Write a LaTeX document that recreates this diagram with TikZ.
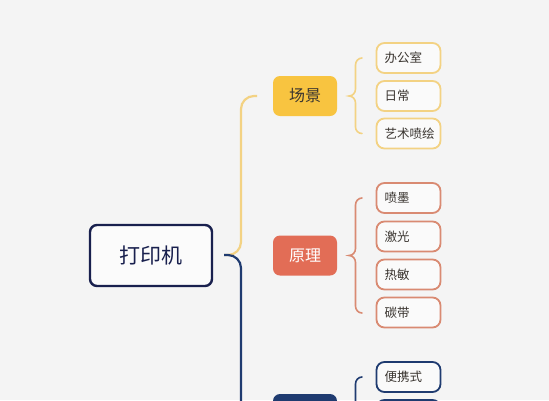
\documentclass[tikz,border=0pt]{standalone}
\usepackage{fontspec}
\newfontfamily\cjk{Noto Sans CJK SC}
\definecolor{bg}{HTML}{F4F4F4}
\definecolor{ylw}{HTML}{F8C440}
\definecolor{ylwline}{HTML}{F3D283}
\definecolor{org}{HTML}{E26D56}
\definecolor{orgline}{HTML}{D98A72}
\definecolor{nvy}{HTML}{1F3B70}
\definecolor{rootc}{HTML}{19204E}
\definecolor{txt}{HTML}{3A3530}
\tikzset{
  rootbox/.style={draw=rootc, line width=2.4pt, rounded corners=7pt, fill=white!60!bg, minimum width=122pt, minimum height=61pt, inner sep=0pt, font=\cjk\fontsize{21}{24}\selectfont, text=rootc},
  mainbox/.style={rounded corners=7pt, minimum width=64pt, minimum height=40pt, inner sep=0pt, font=\cjk\fontsize{16}{19}\selectfont},
  leafbox/.style={line width=1.8pt, rounded corners=8pt, fill=white!50!bg, minimum width=64pt, minimum height=30pt, inner sep=0pt, text width=56pt, align=left, font=\cjk\fontsize{12.5}{15}\selectfont, text=txt, execute at begin node={\hspace*{4pt}}},
  ylwleaf/.style={leafbox, draw=ylwline},
  orgleaf/.style={leafbox, draw=orgline},
  nvyleaf/.style={leafbox, draw=nvy},
  conn/.style={line width=2.2pt, rounded corners=13pt},
  bracel/.style={line width=1.6pt, line cap=round},
}
\begin{document}
\begin{tikzpicture}[x=1pt,y=-1pt]
\path[use as bounding box, fill=bg] (0,0) rectangle (549,400);
\node[rootbox] (root) at (151,255.5) {打印机};
\coordinate (rs) at (224,255);
\node[mainbox, fill=ylw, text=txt] (s1) at (305,96) {场景};
\node[mainbox, fill=org, text=white] (s2) at (305,255.5) {原理};
\node[mainbox, fill=nvy, text=white] (s3) at (305,414) {\phantom{类型}};
\coordinate (e1) at (257,96);
\coordinate (e3) at (257,414);
\draw[conn, ylwline] (rs) -| (241,150) |- (e1);
\draw[conn, nvy] (rs) -| (241,350) |- (e3);
% leaves
\node[ylwleaf] (a1) at (408.5,58) {办公室};
\node[ylwleaf] (a2) at (408.5,96) {日常};
\node[ylwleaf] (a3) at (408.5,133.5) {艺术喷绘};
\node[orgleaf] (b1) at (408.5,198) {喷墨};
\node[orgleaf] (b2) at (408.5,236.5) {激光};
\node[orgleaf] (b3) at (408.5,274.5) {热敏};
\node[orgleaf] (b4) at (408.5,312.5) {碳带};
\node[nvyleaf] (c1) at (408.5,377) {便携式};
\node[nvyleaf] (c2) at (408.5,415) {\phantom{家用}};
% braces
\draw[bracel, ylwline] (362,58) to[out=180,in=90] (355.5,65) -- (355.5,89) to[out=-90,in=0] (349,96) to[out=0,in=90] (355.5,103) -- (355.5,127) to[out=-90,in=180] (362,133.5);
\draw[bracel, orgline] (362,198) to[out=180,in=90] (355.5,205) -- (355.5,248.5) to[out=-90,in=0] (349,255.5) to[out=0,in=90] (355.5,262.5) -- (355.5,306) to[out=-90,in=180] (362,313);
\draw[bracel, nvy] (362,377) to[out=180,in=90] (355.5,384) -- (355.5,408) to[out=-90,in=0] (349,415);
\end{tikzpicture}
\end{document}
